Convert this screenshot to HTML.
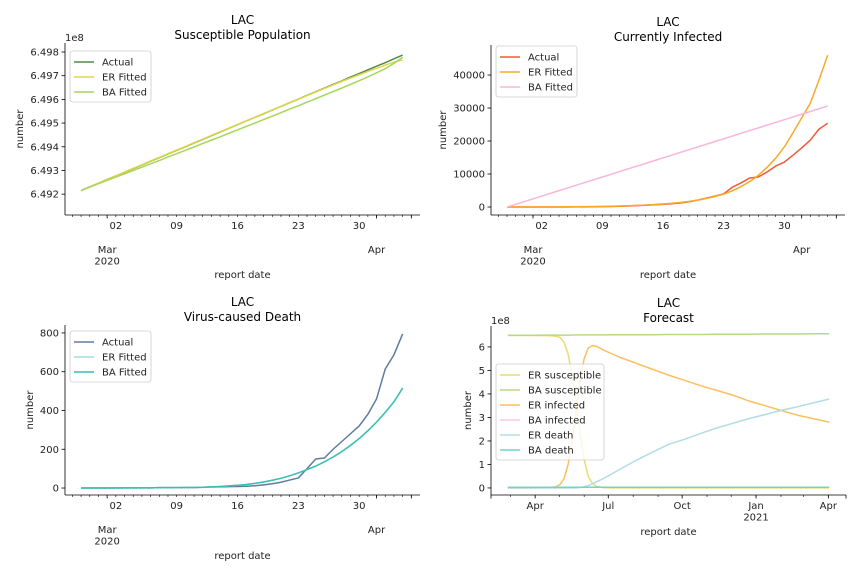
<!DOCTYPE html>
<html><head><meta charset="utf-8"><style>
body{margin:0;background:#fff;}
svg{display:block;font-family:"DejaVu Sans","Liberation Sans",sans-serif;}
</style></head><body>
<svg id="fig" width="864" height="576" viewBox="0 0 864 576" xmlns="http://www.w3.org/2000/svg"></svg>
<script>
// ---- Data: daily series Feb 27 .. Apr 4 2020 (day index 0..37)
const days = Array.from({length:38},(_, i)=>i);
const suscActual = [6.49215,6.49231,6.49246,6.49262,6.49277,6.49292,6.49308,6.49323,6.49339,6.49354,6.49370,6.49385,6.49400,6.49416,6.49431,6.49447,6.49462,6.49478,6.49493,6.49509,6.49524,6.49539,6.49555,6.49570,6.49586,6.49601,6.49617,6.49632,6.49648,6.49663,6.49678,6.49694,6.49709,6.49725,6.49740,6.49755,6.49771,6.49787];
const suscER = [6.49215,6.49231,6.49246,6.49262,6.49277,6.49293,6.49309,6.49324,6.49340,6.49355,6.49371,6.49386,6.49401,6.49417,6.49432,6.49448,6.49463,6.49478,6.49494,6.49509,6.49524,6.49540,6.49555,6.49570,6.49586,6.49601,6.49616,6.49631,6.49646,6.49661,6.49676,6.49690,6.49704,6.49718,6.49731,6.49745,6.49757,6.49767];
const suscBA = [6.49215,6.49230,6.49244,6.49258,6.49272,6.49286,6.49300,6.49314,6.49328,6.49342,6.49357,6.49371,6.49385,6.49399,6.49414,6.49428,6.49442,6.49457,6.49471,6.49486,6.49500,6.49515,6.49529,6.49544,6.49559,6.49573,6.49588,6.49603,6.49618,6.49633,6.49648,6.49663,6.49679,6.49695,6.49712,6.49730,6.49752,6.49778];
const infActual = [0,0,0,0,5,10,15,20,30,50,80,110,160,220,300,420,550,700,800,1000,1200,1600,2100,2700,3300,4000,6000,7300,8800,9100,10600,12400,13600,15700,17900,20300,23600,25400];
const infER = [5,8,12,18,25,35,50,70,95,125,160,200,250,320,400,500,620,760,930,1130,1380,1700,2100,2600,3200,3900,4900,6200,7700,9600,12000,14800,18200,22500,27000,31500,38500,46000];
const infBA = [0,830,1650,2480,3310,4130,4960,5790,6620,7440,8270,9100,9920,10750,11580,12410,13230,14060,14890,15710,16540,17370,18200,19020,19850,20680,21500,22330,23160,23990,24810,25640,26470,27290,28120,28950,29780,30600];
const deathActual = [0,0,0,0,1,1,1,1,1,2,2,2,3,3,4,5,6,7,8,9,12,16,22,30,41,52,100,150,155,200,240,280,320,380,460,614,687,795];
const deathER = [0,0,0,0,0,1,1,1,1,2,2,2,3,3,4,6,8,11,14,18,24,31,40,50,63,78,95,113,135,160,188,220,255,295,340,390,445,515];
const deathBA = [0,0,0,0,0,1,1,1,1,2,2,2,3,3,4,6,8,11,14,18,24,31,40,50,63,78,95,113,135,160,188,220,255,295,340,390,445,515];
// ---- Forecast (units 1e8), day index from Feb 27 2020
const fDays = [0,50,60,65,70,75,80,85,90,95,100,105,110,120,140,160,180,200,220,240,260,280,300,320,340,360,380,400];
const fErSusc = [6.49,6.48,6.46,6.40,6.20,5.70,4.80,3.60,2.30,1.20,0.50,0.20,0.07,0.01,0.005,0.004,0.003,0.003,0.003,0.003,0.003,0.003,0.003,0.003,0.003,0.003,0.003,0.003];
const fBaSusc = [6.49,6.50,6.50,6.50,6.50,6.50,6.50,6.51,6.51,6.51,6.51,6.51,6.51,6.51,6.52,6.52,6.52,6.53,6.53,6.53,6.54,6.54,6.54,6.55,6.55,6.55,6.56,6.56];
const fErInf = [0,0.01,0.05,0.15,0.40,1.00,2.00,3.30,4.60,5.50,5.95,6.05,6.03,5.85,5.55,5.30,5.05,4.80,4.58,4.35,4.15,3.95,3.70,3.50,3.30,3.10,2.95,2.80];
const fBaInf = [0.03,0.03,0.03,0.03,0.03,0.03,0.03,0.03,0.03,0.03,0.03,0.03,0.03,0.03,0.03,0.03,0.03,0.03,0.03,0.03,0.03,0.03,0.03,0.03,0.03,0.03,0.03,0.03];
const fErDeath = [0,0,0,0,0,0,0,0.005,0.02,0.05,0.10,0.17,0.25,0.42,0.80,1.18,1.52,1.85,2.07,2.32,2.55,2.75,2.95,3.12,3.30,3.45,3.62,3.78];
const fBaDeath = [0.03,0.03,0.03,0.03,0.03,0.03,0.03,0.03,0.03,0.03,0.03,0.03,0.03,0.03,0.03,0.03,0.03,0.03,0.03,0.03,0.03,0.03,0.03,0.03,0.03,0.03,0.03,0.03];

const NS="http://www.w3.org/2000/svg";
const svg=document.getElementById('fig');
function el(tag,attrs,parent,text){const e=document.createElementNS(NS,tag);for(const k in attrs)e.setAttribute(k,attrs[k]);if(text!==undefined)e.textContent=text;(parent||svg).appendChild(e);return e;}

function makeAxes(cfg){
  const g=el('g',{});
  
  
  const sx=v=>cfg.L+(v-cfg.x0)/(cfg.x1-cfg.x0)*(cfg.R-cfg.L);
  const sy=v=>cfg.B-(v-cfg.y0)/(cfg.y1-cfg.y0)*(cfg.B-cfg.T);
  const ls=el('line',{x1:cfg.L,y1:cfg.T,x2:cfg.L,y2:cfg.B,stroke:'#000','stroke-width':0.8},g);
  
  const bs=el('line',{x1:cfg.L,y1:cfg.B,x2:cfg.R,y2:cfg.B,stroke:'#000','stroke-width':0.8},g);
  
  cfg.yTicks.forEach((t,i)=>{
    const y=sy(t);
    el('line',{x1:cfg.L-3.5,y1:y,x2:cfg.L,y2:y,stroke:'#000','stroke-width':0.8},g);
    const tx=el('text',{x:cfg.L-6,y:y+3.5,'text-anchor':'end','font-size':10,fill:'#222'},g,cfg.yLabels[i]);
    
  });
  if(cfg.offset){const o=el('text',{x:cfg.L,y:cfg.T-2,'font-size':10,fill:'#222'},g,cfg.offset);}
  (cfg.minor||[]).forEach(t=>{const x=sx(t);el('line',{x1:x,y1:cfg.B,x2:x,y2:cfg.B+2,stroke:'#000','stroke-width':0.6},g);});
  (cfg.major||[]).forEach(t=>{const x=sx(t);el('line',{x1:x,y1:cfg.B,x2:x,y2:cfg.B+3.5,stroke:'#000','stroke-width':0.8},g);});
  cfg.xLabels.forEach(l=>{
    const x=sx(l.d);
    l.lines.forEach((s,j)=>{const tx=el('text',{x:x,y:cfg.B+l.dy+j*11.5,'text-anchor':'middle','font-size':10,fill:'#222'},g,s);
      });
  });
  const xt=el('text',{x:(cfg.L+cfg.R)/2,y:cfg.xTitleY,'text-anchor':'middle','font-size':10,fill:'#222'},g,'report date');
  
  const yx=cfg.yTitleX, yy=(cfg.T+cfg.B)/2;
  const yt=el('text',{x:yx,y:yy,'text-anchor':'middle','font-size':10,fill:'#222',transform:`rotate(-90 ${yx} ${yy})`},g,'number');
  
  const cx=(cfg.L+cfg.R)/2;
  const t1=el('text',{x:cx,y:cfg.T-19,'text-anchor':'middle','font-size':12,fill:'#000'},g,'LAC');
  
  const t2=el('text',{x:cx,y:cfg.T-4,'text-anchor':'middle','font-size':12,fill:'#000'},g,cfg.title);
  
  cfg.series.forEach(s=>{
    const d=s.x.map((v,i)=>(i?'L':'M')+sx(v).toFixed(2)+','+sy(s.y[i]).toFixed(2)).join('');
    const p=el('path',{d:d,fill:'none',stroke:s.color,'stroke-width':1.5,'stroke-linejoin':'round'},g);
    
  });
  const lg=el('g',{},g);
  
  const lx=cfg.legX, ly=cfg.legY, lw=cfg.legW, lh=cfg.series.length*15+6;
  el('rect',{x:lx,y:ly,width:lw,height:lh,rx:2.5,fill:'#fff','fill-opacity':0.8,stroke:'#ccc','stroke-width':0.8},lg);
  cfg.series.forEach((s,i)=>{
    const yy2=ly+11+i*15;
    const e=el('g',{},lg);
    
    el('line',{x1:lx+4,y1:yy2,x2:lx+24,y2:yy2,stroke:s.color,'stroke-width':1.5},e);
    el('text',{x:lx+32,y:yy2+3.5,'font-size':10,fill:'#222'},e,s.label);
  });
}

const dailyMinor=Array.from({length:40},(_, i)=>i-1);
const dayLabels=[{d:4,lines:['02'],dy:14},{d:11,lines:['09'],dy:14},{d:18,lines:['16'],dy:14},{d:25,lines:['23'],dy:14},{d:32,lines:['30'],dy:14},{d:3,lines:['Mar','2020'],dy:38},{d:34,lines:['Apr'],dy:38}];

makeAxes({name:'susceptible-panel',L:65,R:420,T:43,B:215,x0:-1.85,x1:39,y0:6.49112,y1:6.49838,
  yTicks:[6.492,6.493,6.494,6.495,6.496,6.497,6.498],yLabels:['6.492','6.493','6.494','6.495','6.496','6.497','6.498'],offset:'1e8',
  minor:dailyMinor,major:[3,34,38],xLabels:dayLabels,xTitleY:278,yTitleX:23,title:'Susceptible Population',
  legX:70,legY:51,legW:81,
  series:[{id:'susceptible-actual-line',label:'Actual',color:'#4f8c4a',x:days,y:suscActual},
          {id:'susceptible-er-line',label:'ER Fitted',color:'#e2d546',x:days,y:suscER},
          {id:'susceptible-ba-line',label:'BA Fitted',color:'#a6d65a',x:days,y:suscBA}]});

makeAxes({name:'infected-panel',L:491,R:845,T:45,B:215,x0:-1.85,x1:39,y0:-2420,y1:49100,
  yTicks:[0,10000,20000,30000,40000],yLabels:['0','10000','20000','30000','40000'],
  minor:dailyMinor,major:[3,34,38],xLabels:dayLabels,xTitleY:278,yTitleX:446,title:'Currently Infected',
  legX:496,legY:46,legW:81,
  series:[{id:'infected-actual-line',label:'Actual',color:'#ef5a3a',x:days,y:infActual},
          {id:'infected-er-line',label:'ER Fitted',color:'#f7a92a',x:days,y:infER},
          {id:'infected-ba-line',label:'BA Fitted',color:'#f9b5dc',x:days,y:infBA}]});

makeAxes({name:'death-panel',L:65,R:420,T:325,B:495,x0:-1.85,x1:39,y0:-36,y1:841,
  yTicks:[0,200,400,600,800],yLabels:['0','200','400','600','800'],
  minor:dailyMinor,major:[3,34,38],xLabels:dayLabels,xTitleY:559,yTitleX:33,title:'Virus-caused Death',
  legX:70,legY:331,legW:81,
  series:[{id:'death-actual-line',label:'Actual',color:'#5f7ba0',x:days,y:deathActual},
          {id:'death-er-line',label:'ER Fitted',color:'#aad8dc',x:days,y:deathER},
          {id:'death-ba-line',label:'BA Fitted',color:'#35c0b0',x:days,y:deathBA}]});

const monthDays=[3,34,64,95,125,156,187,217,248,278,309,340,368,399];
makeAxes({name:'forecast-panel',L:491,R:846,T:326,B:495,x0:-21,x1:421,y0:-0.3,y1:6.89,
  yTicks:[0,1,2,3,4,5,6],yLabels:['0','1','2','3','4','5','6'],offset:'1e8',
  minor:monthDays,major:[-21,34,125,217,309,399,421],
  xLabels:[{d:34,lines:['Apr'],dy:14},{d:125,lines:['Jul'],dy:14},{d:217,lines:['Oct'],dy:14},{d:309,lines:['Jan','2021'],dy:14},{d:399,lines:['Apr'],dy:14}],
  xTitleY:535,yTitleX:471,title:'Forecast',
  legX:496,legY:364,legW:108,
  series:[{id:'forecast-er-susceptible',label:'ER susceptible',color:'#e8dc74',x:fDays,y:fErSusc},
          {id:'forecast-ba-susceptible',label:'BA susceptible',color:'#b3dc80',x:fDays,y:fBaSusc},
          {id:'forecast-er-infected',label:'ER infected',color:'#f9c060',x:fDays,y:fErInf},
          {id:'forecast-ba-infected',label:'BA infected',color:'#f9c8e8',x:fDays,y:fBaInf},
          {id:'forecast-er-death',label:'ER death',color:'#b3dde2',x:fDays,y:fErDeath},
          {id:'forecast-ba-death',label:'BA death',color:'#6fd6c8',x:fDays,y:fBaDeath}]});
</script>
</body></html>
